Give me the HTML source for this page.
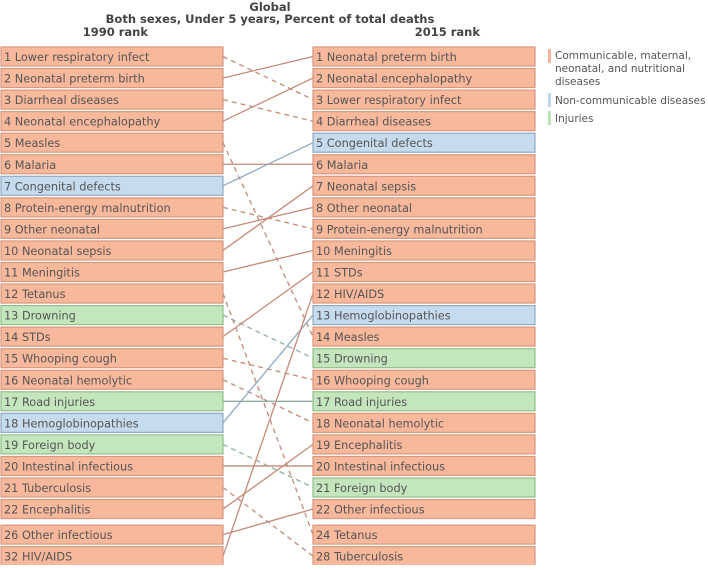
<!DOCTYPE html>
<html><head><meta charset="utf-8"><style>
body{margin:0;background:#fff;}
svg text{font-family:"DejaVu Sans","Liberation Sans",sans-serif;}
</style></head><body>
<svg id="chart" width="708" height="565" xmlns="http://www.w3.org/2000/svg">
<text x="270" y="11" text-anchor="middle" font-size="11.5" font-weight="bold" fill="#444">Global</text>
<text x="270" y="23" text-anchor="middle" font-size="11.5" font-weight="bold" fill="#444">Both sexes, Under 5 years, Percent of total deaths</text>
<text x="148" y="36" text-anchor="end" font-size="11.5" font-weight="bold" fill="#444">1990 rank</text>
<text x="480" y="36" text-anchor="end" font-size="11.5" font-weight="bold" fill="#444">2015 rank</text>
<g id="lines"></g><g id="boxes"></g>
<g font-size="10.5" fill="#555">
<rect x="548" y="49" width="3" height="14" fill="#f6b59a"/>
<text x="555" y="59"><tspan x="555">Communicable, maternal,</tspan><tspan x="555" dy="13">neonatal, and nutritional</tspan><tspan x="555" dy="13">diseases</tspan></text>
<rect x="548" y="93" width="3" height="14" fill="#c3d8ea"/>
<text x="555" y="104">Non-communicable diseases</text>
<rect x="548" y="111" width="3" height="14" fill="#bfe3b8"/>
<text x="555" y="122">Injuries</text>
</g>
</svg>
<script>
const causes=["Lower respiratory infect","Neonatal preterm birth","Diarrheal diseases","Neonatal encephalopathy","Measles","Malaria","Congenital defects","Protein-energy malnutrition","Other neonatal","Neonatal sepsis","Meningitis","Tetanus","Drowning","STDs","Whooping cough","Neonatal hemolytic","Road injuries","Hemoglobinopathies","Foreign body","Intestinal infectious","Tuberculosis","Encephalitis","Other infectious","HIV/AIDS"];
const rank1990=[1,2,3,4,5,6,7,8,9,10,11,12,13,14,15,16,17,18,19,20,21,22,26,32];
const rank2015=[3,1,4,2,14,6,5,9,8,7,10,24,15,11,16,18,17,13,21,20,28,19,22,12];
const category=["c","c","c","c","c","c","n","c","c","c","c","c","i","c","c","c","i","n","i","c","c","c","c","c"];
const fills={c:"#f8b89b",n:"#c5dbee",i:"#c4e6bd"};
const strokes={c:"#d8977e",n:"#92aac2",i:"#93bf8d"};
const lineCol={c:"#c48a78",n:"#8faac0",i:"#8fb0a0"};
const NS="http://www.w3.org/2000/svg";
function slotOf(rank,all){const s=[...all].sort((a,b)=>a-b);return s.indexOf(rank);}
function yOf(slot){return 47+slot*21.55+(slot>=22?4:0);}
const LX=1,RX=313,BW=222,BH=19;
const lines=document.getElementById('lines'),boxes=document.getElementById('boxes');
function box(x,slot,rank,i){
  const y=yOf(slot);
  const r=document.createElementNS(NS,'rect');
  
  
  r.setAttribute('x',x);r.setAttribute('y',y);r.setAttribute('width',BW);r.setAttribute('height',BH);
  r.setAttribute('fill',fills[category[i]]);r.setAttribute('stroke',strokes[category[i]]);r.setAttribute('stroke-width','1.2');
  boxes.appendChild(r);
  const t=document.createElementNS(NS,'text');
  
  
  t.setAttribute('x',x+3);t.setAttribute('y',y+14);t.setAttribute('font-size','11.3');t.setAttribute('fill','#555');
  t.textContent=rank+' '+causes[i];
  boxes.appendChild(t);
}
causes.forEach((c,i)=>{
  const s1=slotOf(rank1990[i],rank1990),s2=slotOf(rank2015[i],rank2015);
  box(LX,s1,rank1990[i],i);box(RX,s2,rank2015[i],i);
  const l=document.createElementNS(NS,'line');
  
  
  l.setAttribute('x1',LX+BW);l.setAttribute('y1',yOf(s1)+BH/2);
  l.setAttribute('x2',RX);l.setAttribute('y2',yOf(s2)+BH/2);
  l.setAttribute('stroke',lineCol[category[i]]);l.setAttribute('stroke-width','1.3');
  if(rank2015[i]>rank1990[i])l.setAttribute('stroke-dasharray','5,4');
  lines.appendChild(l);
});
</script>
</body></html>
